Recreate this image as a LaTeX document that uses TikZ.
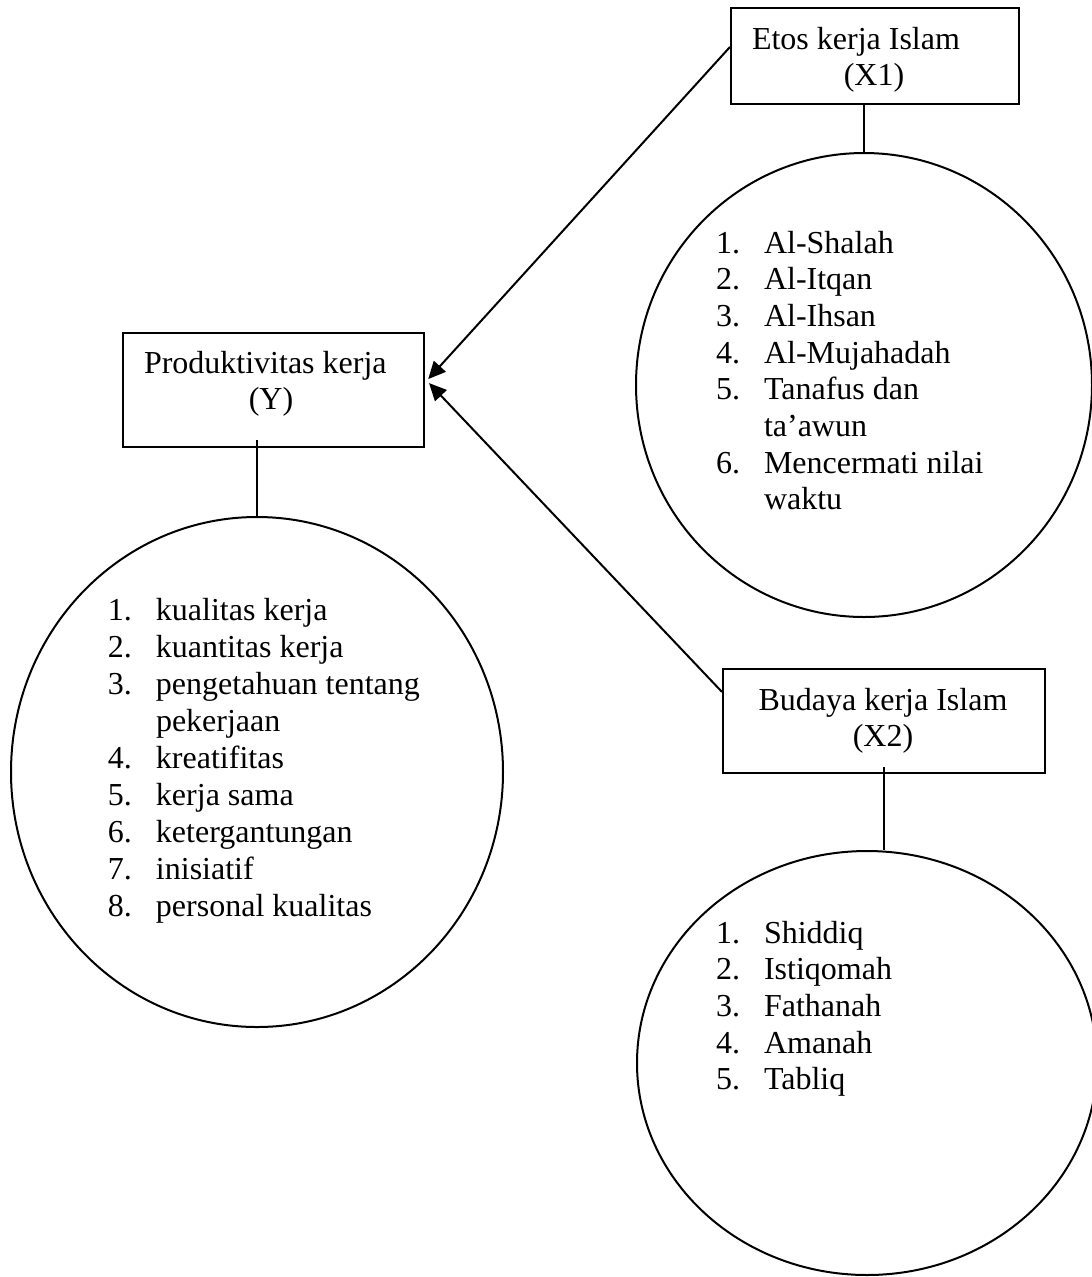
\documentclass[tikz,border=0pt]{standalone}
\usepackage{fontspec}
\setmainfont{Liberation Serif}
\usetikzlibrary{shapes.geometric,arrows.meta}
\begin{document}
\begin{tikzpicture}[x=0.375pt,y=-0.375pt, line width=0.75pt,
  box/.style={draw, rectangle, inner sep=0pt},
  oval/.style={draw, ellipse, inner sep=0pt},
  txt/.style={inner sep=0pt, font=\fontsize{12pt}{13.76pt}\selectfont},
  arr/.style={-{Triangle[length=6.5pt,width=6pt]}}]
\useasboundingbox (0,0) rectangle (1092,1277);
\clip (0,0) rectangle (1092,1277);
% boxes
\node[box, minimum width=108pt, minimum height=36pt] (X1) at (875,56) {};
\node[box, minimum width=112.9pt, minimum height=42.75pt] (Y) at (273.5,390) {};
\node[box, minimum width=120.75pt, minimum height=39pt] (X2) at (884,721) {};
% ovals
\node[oval, minimum width=171pt, minimum height=174pt] (E1) at (864,385) {};
\node[oval, minimum width=184.5pt, minimum height=191.25pt] (EY) at (257,772) {};
\node[oval, minimum width=172.5pt, minimum height=159pt] (E2) at (867,1063) {};
% box texts
\node[txt, anchor=base west] (X1a) at (751,49) {Etos kerja Islam};
\node[txt, anchor=base] (X1b) at (874,85) {(X1)};
\node[txt, anchor=base west] (Ya) at (143,373) {Produktivitas kerja};
\node[txt, anchor=base] (Yb) at (271,409) {(Y)};
\node[txt, anchor=base] (X2a) at (883,710) {Budaya kerja Islam};
\node[txt, anchor=base] (X2b) at (883,746) {(X2)};
% lists
\foreach \n/\t [count=\i] in {1./Al-Shalah, 2./Al-Itqan, 3./Al-Ihsan, 4./Al-Mujahadah,
  5./Tanafus dan, /ta’awun, 6./Mencermati nilai, /waktu}
  \node[txt, anchor=base west] (la\i) at (715,{253+36.7*(\i-1)}) {\makebox[18pt][l]{\n}\t};
\foreach \n/\t [count=\i] in {1./kualitas kerja, 2./kuantitas kerja, 3./pengetahuan tentang,
  /pekerjaan, 4./kreatifitas, 5./kerja sama, 6./ketergantungan, 7./inisiatif, 8./personal kualitas}
  \node[txt, anchor=base west] (lb\i) at (107,{620+37*(\i-1)}) {\makebox[18pt][l]{\n}\t};
\foreach \n/\t [count=\i] in {1./Shiddiq, 2./Istiqomah, 3./Fathanah, 4./Amanah, 5./Tabliq}
  \node[txt, anchor=base west] (lc\i) at (715,{943+36.7*(\i-1)}) {\makebox[18pt][l]{\n}\t};
% connectors
\draw (E1.north |- X1.south) -- (E1.north);
\draw (EY.north |- Y.south) ++(0,-8) -- (EY.north);
\draw (X2.south) ++(0,-7) -- (E2.north -| X2.south);
\draw[arr] ([yshift=3.4pt]X1.west) -- ([xshift=1.2pt,yshift=4.1pt]Y.east);
\draw[arr] ([yshift=10.9pt]X2.west) -- ([xshift=1.5pt,yshift=2.6pt]Y.east);
\end{tikzpicture}
\end{document}
